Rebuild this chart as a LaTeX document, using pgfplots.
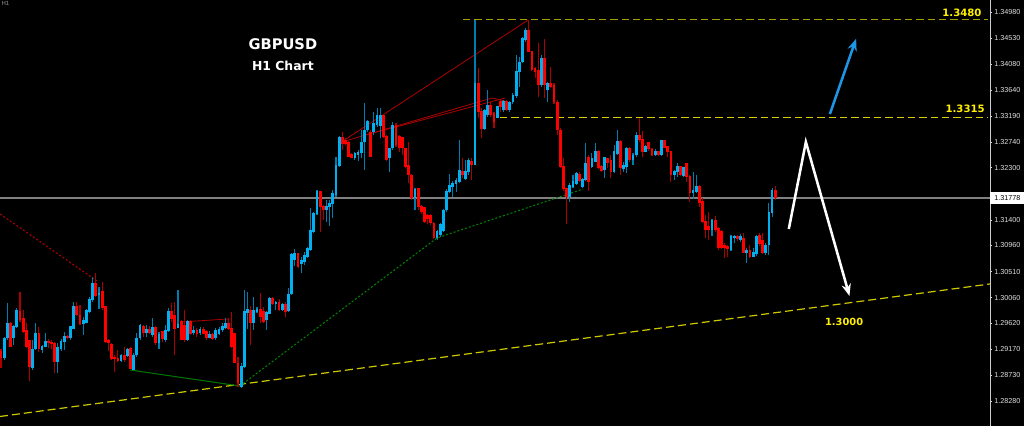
\documentclass[border=0pt]{standalone}
\usepackage{pgfplots}
\pgfplotsset{compat=1.18}
\usepackage{pgfplotstable}
\usepackage{fontspec}
\setmainfont{Liberation Sans}
\newfontfamily\dejavu{DejaVu Sans}
\usetikzlibrary{arrows.meta}
\definecolor{bullbody}{RGB}{0,176,240}
\definecolor{bullwick}{RGB}{0,125,175}
\definecolor{bearbody}{RGB}{255,0,0}
\definecolor{bearwick}{RGB}{175,0,0}
\definecolor{lvlyel}{RGB}{215,205,0}
\definecolor{lvlolive}{RGB}{165,160,0}
\definecolor{trendyel}{RGB}{205,200,0}
\definecolor{arrowblue}{RGB}{30,150,230}
\definecolor{darkred}{RGB}{175,0,0}
\definecolor{lblyel}{RGB}{255,240,0}

\pgfplotstableread{
i o h l c
2 1.29017 1.29390 1.28988 1.29361
3 1.29361 1.29975 1.29332 1.29619
5 1.29378 1.29591 1.29246 1.29562
6 1.29562 1.29878 1.29533 1.29849
11 1.28845 1.29332 1.28816 1.29172
12 1.29172 1.29619 1.29160 1.29447
14 1.29160 1.29246 1.29114 1.29229
15 1.29218 1.29459 1.29206 1.29304
19 1.28959 1.29286 1.28770 1.29206
20 1.29172 1.29344 1.29149 1.29315
21 1.29304 1.29476 1.29160 1.29390
23 1.29361 1.29562 1.29332 1.29562
24 1.29533 1.29992 1.29533 1.29918
27 1.29619 1.29734 1.29419 1.29665
28 1.29631 1.29860 1.29619 1.29838
29 1.29820 1.30067 1.29792 1.30033
30 1.30021 1.30423 1.29992 1.30308
32 1.30107 1.30239 1.29860 1.30147
39 1.28977 1.29091 1.28959 1.29074
41 1.29057 1.29189 1.29045 1.29172
43 1.28827 1.29102 1.28815 1.29074
44 1.29074 1.29447 1.29045 1.29361
45 1.29361 1.29602 1.29332 1.29590
47 1.29458 1.29590 1.29389 1.29516
49 1.29418 1.29705 1.29389 1.29550
51 1.29275 1.29476 1.29171 1.29435
53 1.29332 1.29590 1.29303 1.29504
54 1.29493 1.29877 1.29476 1.29837
57 1.29544 1.30193 1.29533 1.29608
60 1.29332 1.29676 1.29320 1.29648
62 1.29447 1.29573 1.29418 1.29504
64 1.29447 1.29550 1.29418 1.29516
67 1.29378 1.29493 1.29361 1.29430
69 1.29361 1.29533 1.29332 1.29504
70 1.29435 1.29562 1.29418 1.29516
71 1.29504 1.29619 1.29476 1.29562
72 1.29550 1.29717 1.29516 1.29619
77 1.28528 1.28930 1.28500 1.28873
78 1.28873 1.30193 1.28844 1.29820
79 1.29803 1.30164 1.29516 1.29860
81 1.29631 1.30078 1.29504 1.29849
82 1.29820 1.29906 1.29791 1.29860
85 1.29677 1.29837 1.29504 1.29803
86 1.29791 1.30078 1.29780 1.30050
88 1.29952 1.30004 1.29849 1.29992
90 1.29860 1.29975 1.29837 1.29952
92 1.29837 1.30222 1.29820 1.30124
93 1.30124 1.30836 1.30107 1.30813
94 1.30721 1.30893 1.30607 1.30825
96 1.30641 1.30767 1.30492 1.30710
97 1.30681 1.30853 1.30624 1.30796
98 1.30767 1.30939 1.30739 1.30911
99 1.30893 1.31600 1.30871 1.31215
100 1.31198 1.31542 1.31169 1.31513
101 1.31513 1.31915 1.31485 1.31887
104 1.31582 1.31743 1.31370 1.31640
105 1.31628 1.31743 1.31295 1.31686
106 1.31674 1.31915 1.31427 1.31869
107 1.31829 1.32478 1.31800 1.32346
108 1.32329 1.32845 1.32317 1.32822
113 1.32477 1.32575 1.32432 1.32546
114 1.32518 1.32604 1.32420 1.32575
115 1.32558 1.32948 1.32460 1.32747
116 1.32747 1.33419 1.32259 1.32948
117 1.32948 1.33120 1.32919 1.33092
119 1.32919 1.33264 1.32862 1.33063
120 1.33034 1.33321 1.33005 1.33206
121 1.33017 1.33321 1.32805 1.33206
124 1.32461 1.32645 1.32231 1.32633
125 1.32633 1.33081 1.32604 1.33035
132 1.31784 1.31956 1.31571 1.31933
139 1.31083 1.31227 1.31055 1.31198
140 1.31141 1.31342 1.31112 1.31325
141 1.31209 1.31588 1.31187 1.31571
142 1.31571 1.31933 1.31543 1.31887
143 1.31887 1.32185 1.31858 1.32002
144 1.31973 1.32070 1.31801 1.32030
145 1.32030 1.32128 1.31887 1.32088
146 1.32059 1.32777 1.32030 1.32260
148 1.32116 1.32432 1.32088 1.32231
149 1.32231 1.32461 1.32174 1.32432
151 1.32357 1.34843 1.32346 1.33752
154 1.32977 1.33310 1.32949 1.33293
155 1.33207 1.33637 1.33178 1.33379
158 1.33161 1.33368 1.33150 1.33351
160 1.33293 1.33465 1.33265 1.33448
162 1.33293 1.33448 1.33265 1.33425
163 1.33425 1.33580 1.33402 1.33551
164 1.33540 1.34240 1.33506 1.33953
165 1.33953 1.34211 1.33694 1.34125
166 1.34125 1.34556 1.34097 1.34527
167 1.34499 1.34699 1.34470 1.34671
172 1.33724 1.34240 1.33695 1.34183
174 1.33637 1.33781 1.33425 1.33752
181 1.31801 1.32030 1.31715 1.32002
182 1.31973 1.32174 1.31944 1.32059
183 1.32030 1.32220 1.32002 1.32203
185 1.31973 1.32128 1.31956 1.32105
186 1.32088 1.32719 1.32070 1.32375
188 1.32317 1.32547 1.32289 1.32461
189 1.32403 1.32719 1.32392 1.32587
192 1.32260 1.32489 1.32128 1.32472
195 1.32231 1.32690 1.32203 1.32576
196 1.32530 1.32949 1.32518 1.32748
198 1.32277 1.32403 1.32231 1.32346
199 1.32317 1.32662 1.32203 1.32633
201 1.32432 1.32547 1.32346 1.32518
202 1.32518 1.32920 1.32489 1.32863
205 1.32576 1.32690 1.32564 1.32662
208 1.32518 1.32616 1.32501 1.32576
210 1.32518 1.32777 1.32501 1.32765
214 1.32174 1.32260 1.32088 1.32231
215 1.32231 1.32375 1.32145 1.32317
217 1.32157 1.32317 1.32134 1.32306
220 1.31858 1.32231 1.31755 1.31916
221 1.31887 1.32174 1.31858 1.31973
226 1.31227 1.31411 1.31123 1.31399
232 1.30882 1.31141 1.30871 1.31123
233 1.31083 1.31141 1.30997 1.31123
235 1.31055 1.31158 1.31026 1.31112
237 1.30836 1.30911 1.30653 1.30882
239 1.30768 1.30911 1.30756 1.30836
240 1.30814 1.31141 1.30779 1.31112
243 1.30825 1.30997 1.30796 1.30969
244 1.30969 1.31686 1.30796 1.31525
245 1.31525 1.31944 1.31456 1.31904
}\bull

\pgfplotstableread{
i o h l c
1 1.29132 1.29172 1.28845 1.29017
4 1.29619 1.29648 1.29206 1.29218
7 1.29820 1.30165 1.29648 1.29677
8 1.29706 1.29849 1.29447 1.29476
9 1.29505 1.29619 1.29189 1.29206
10 1.29321 1.29332 1.28632 1.28862
13 1.29447 1.29562 1.29132 1.29172
16 1.29315 1.29344 1.29189 1.29275
17 1.29298 1.29332 1.29172 1.29258
18 1.29275 1.29304 1.28758 1.28959
22 1.29401 1.29419 1.29344 1.29373
25 1.29918 1.29992 1.29746 1.29763
26 1.29763 1.29935 1.29591 1.29619
31 1.30308 1.30480 1.30079 1.30090
33 1.30165 1.30337 1.29849 1.29878
34 1.29906 1.29906 1.29275 1.29304
35 1.29332 1.29344 1.29149 1.29286
36 1.29263 1.29275 1.28988 1.29000
37 1.29034 1.29074 1.28787 1.29000
38 1.29017 1.29160 1.28959 1.28977
40 1.29074 1.29206 1.28959 1.28988
42 1.29189 1.29206 1.28827 1.28844
46 1.29573 1.29590 1.29389 1.29458
48 1.29516 1.29573 1.29435 1.29458
50 1.29550 1.29573 1.29246 1.29275
52 1.29476 1.29493 1.29303 1.29344
55 1.29837 1.29963 1.29648 1.29705
56 1.29763 1.29992 1.29074 1.29533
58 1.29648 1.29676 1.29332 1.29340
59 1.29590 1.29849 1.29303 1.29332
61 1.29648 1.29676 1.29418 1.29447
63 1.29504 1.29533 1.29389 1.29435
65 1.29527 1.29550 1.29430 1.29447
66 1.29476 1.29504 1.29332 1.29378
68 1.29430 1.29458 1.29332 1.29344
73 1.29619 1.29705 1.29504 1.29516
74 1.29533 1.29820 1.29189 1.29217
75 1.29447 1.29458 1.28930 1.28942
76 1.28930 1.29045 1.28528 1.28586
80 1.29849 1.29917 1.29246 1.29631
83 1.29860 1.30147 1.29619 1.29734
84 1.29837 1.29906 1.29619 1.29648
87 1.30050 1.30067 1.29935 1.29952
89 1.29992 1.30033 1.29837 1.29849
91 1.29952 1.29992 1.29723 1.29820
95 1.30825 1.30836 1.30566 1.30595
102 1.31887 1.31904 1.31198 1.31628
103 1.31640 1.31657 1.31399 1.31582
109 1.32822 1.32919 1.32604 1.32718
110 1.32776 1.32805 1.32690 1.32718
111 1.32747 1.32764 1.32477 1.32489
112 1.32535 1.32558 1.32460 1.32477
118 1.32919 1.32948 1.32477 1.32489
122 1.33206 1.33224 1.32805 1.32833
123 1.32845 1.32862 1.32420 1.32432
126 1.33035 1.33064 1.32662 1.32690
127 1.32834 1.32863 1.32576 1.32633
128 1.32817 1.32834 1.32518 1.32645
129 1.32633 1.32645 1.32300 1.32317
130 1.32346 1.32748 1.32030 1.32174
131 1.32174 1.32185 1.31743 1.31772
133 1.31944 1.31956 1.31571 1.31629
134 1.31629 1.31657 1.31497 1.31543
135 1.31611 1.31629 1.31342 1.31370
136 1.31485 1.31497 1.31325 1.31416
137 1.31474 1.31497 1.31313 1.31342
138 1.31342 1.31370 1.31072 1.31083
147 1.32231 1.32472 1.32116 1.32174
150 1.32403 1.32461 1.32088 1.32346
152 1.33752 1.34011 1.33150 1.33265
153 1.33276 1.33322 1.32805 1.32977
156 1.33379 1.33425 1.33178 1.33207
157 1.33236 1.33265 1.32989 1.33092
159 1.33448 1.33465 1.33265 1.33351
161 1.33448 1.33459 1.33276 1.33293
168 1.34671 1.34843 1.34286 1.34298
169 1.34298 1.34309 1.33965 1.33982
170 1.34011 1.34039 1.33838 1.33953
171 1.33982 1.34441 1.33523 1.33724
173 1.34183 1.34516 1.33494 1.33724
175 1.33752 1.34039 1.33666 1.33695
176 1.33724 1.33752 1.33391 1.33425
177 1.33436 1.33465 1.32863 1.32949
178 1.32949 1.32977 1.32289 1.32317
179 1.32317 1.32472 1.31898 1.31944
180 1.31944 1.31956 1.31325 1.31801
184 1.32185 1.32231 1.32059 1.32070
187 1.32489 1.32518 1.31898 1.32059
190 1.32587 1.32604 1.32277 1.32289
191 1.32317 1.32346 1.32231 1.32243
193 1.32461 1.32472 1.32289 1.32375
194 1.32432 1.32518 1.32116 1.32231
197 1.32748 1.32777 1.32174 1.32289
200 1.32633 1.32662 1.32403 1.32432
203 1.32863 1.33161 1.32748 1.32777
204 1.32794 1.32932 1.32489 1.32576
206 1.32731 1.32748 1.32593 1.32616
207 1.32616 1.32633 1.32501 1.32518
209 1.32576 1.32593 1.32501 1.32518
211 1.32765 1.32765 1.32633 1.32650
212 1.32662 1.32673 1.32490 1.32576
213 1.32576 1.32576 1.32059 1.32174
216 1.32317 1.32329 1.32157 1.32174
218 1.32375 1.32386 1.32059 1.32145
219 1.32157 1.32174 1.31715 1.31858
222 1.31973 1.32002 1.31617 1.31698
223 1.31715 1.31772 1.31342 1.31370
224 1.31370 1.31485 1.31083 1.31227
225 1.31284 1.31543 1.31055 1.31227
227 1.31399 1.31468 1.31198 1.31227
228 1.31256 1.31273 1.30882 1.30911
229 1.31198 1.31227 1.30894 1.30911
230 1.30969 1.30997 1.30739 1.30911
231 1.30940 1.30969 1.30756 1.30894
234 1.31123 1.31141 1.31043 1.31066
236 1.31083 1.31169 1.30825 1.30836
238 1.30882 1.30969 1.30739 1.30768
241 1.31141 1.31169 1.30951 1.30986
242 1.31055 1.31169 1.30814 1.30825
246 1.31904 1.31984 1.31743 1.31778
}\bear

\begin{document}
\begin{tikzpicture}[x=0.75pt,y=0.75pt]
\fill[black] (0,0) rectangle (1024,426);
\begin{axis}[
  at={(0,0)}, anchor=south west,
  scale only axis, width=742.5pt, height=319.5pt,
  xmin=0.68, xmax=313.97, ymin=1.27851, ymax=1.35187,
  hide x axis, axis line style={draw=none},
  clip mode=individual,
  ytick={1.27830,1.28280,1.28730,1.29170,1.29620,1.30060,1.30510,1.30960,1.31400,1.32300,1.32740,1.33190,1.33640,1.34080,1.34530,1.34980},
  yticklabels={1.27830,1.28280,1.28730,1.29170,1.29620,1.30060,1.30510,1.30960,1.31400,1.32300,1.32740,1.33190,1.33640,1.34080,1.34530,1.34980},
  yticklabel pos=right, ytick pos=right,
  tick align=outside, major tick length=1.6pt,
  tick style={color=white!85!black, line width=0.5pt},
  yticklabel style={font=\fontsize{5.4}{6}\selectfont, color=white!88!black, inner sep=0pt, xshift=1.4pt},
  scaled y ticks=false,
]
% right border
\draw[white!80!black, line width=0.6pt] (rel axis cs:1,0) -- (rel axis cs:1,1);
% current price line
\addplot[color=white!50!black, line width=0.9pt, forget plot] coordinates {(0.68,1.31778) (313.97,1.31778)};
% level lines
\addplot[draw=lvlolive, line width=0.9pt, dash pattern=on 5.5pt off 3pt, forget plot] coordinates {(147.2,1.34851) (313.3,1.34851)};
\addplot[draw=lvlyel, line width=0.9pt, dash pattern=on 5.5pt off 3pt, forget plot] coordinates {(158.9,1.33167) (313.3,1.33167)};
% bottom trend line
\addplot[draw=trendyel, line width=0.9pt, dash pattern=on 6pt off 3pt, forget plot] coordinates {(0.68,1.28015) (313.97,1.30297)};
% green lines
\addplot[draw=green!45!black, line width=0.8pt, forget plot] coordinates {(41.8,1.28816) (76.6,1.28540)};
\addplot[draw=green!50!black, line width=0.8pt, dash pattern=on 1.5pt off 1.5pt, forget plot] coordinates {(76.6,1.28540) (138.97,1.31089) (185.2,1.31932)};
% red dotted
\addplot[draw=darkred, line width=0.8pt, dash pattern=on 1.5pt off 1.5pt, forget plot] coordinates {(0.68,1.31502) (31.4,1.30348)};
% red trend lines
\addplot[draw=darkred, line width=0.6pt, forget plot] coordinates {(109.2,1.32759) (167.8,1.34843)};
\addplot[draw=darkred, line width=0.6pt, forget plot] coordinates {(109.9,1.32759) (156.4,1.33499) (160.5,1.33448)};
\addplot[draw=darkred, line width=0.6pt, forget plot] coordinates {(115.2,1.32845) (160.5,1.33499)};
\addplot[draw=darkred, line width=0.6pt, forget plot] coordinates {(57.96,1.29642) (72.8,1.29694) (72.8,1.29556)};
% wicks (low to high)
\addplot[draw=bullwick, line width=0.8pt, mark=none, forget plot, quiver={u=0, v=\thisrow{h}-\thisrow{l}}]
  table[x=i, y=l] {\bull};
\addplot[draw=bearwick, line width=0.8pt, mark=none, forget plot, quiver={u=0, v=\thisrow{h}-\thisrow{l}}]
  table[x=i, y=l] {\bear};
% bodies (open to close)
\addplot[draw=bullbody, line width=2.1pt, mark=none, forget plot, quiver={u=0, v=\thisrow{c}-\thisrow{o}+0.00006}]
  table[x=i, y expr={\thisrow{o}-0.00003}] {\bull};
\addplot[draw=bearbody, line width=2.1pt, mark=none, forget plot, quiver={u=0, v=\thisrow{c}-\thisrow{o}-0.00006}]
  table[x=i, y expr={\thisrow{o}+0.00003}] {\bear};
% arrows
\addplot[draw=arrowblue, line width=1.9pt, -{Stealth[length=9pt,width=7pt]}, forget plot] coordinates {(263.3,1.33224) (271.6,1.34520)};
\addplot[draw=white, line width=1.9pt, line join=miter, -{Stealth[length=9pt,width=7pt]}, forget plot] coordinates {(250.3,1.31244) (255.7,1.32742) (269.5,1.30090)};
% texts
\node[white, font=\dejavu\bfseries\fontsize{11}{13}\selectfont, inner sep=0pt] at (axis cs:90.2,1.34424) {GBPUSD};
\node[white, font=\dejavu\bfseries\fontsize{9.3}{11}\selectfont, inner sep=0pt] at (axis cs:90.2,1.34054) {H1 Chart};
\node[lblyel, font=\dejavu\bfseries\fontsize{7.6}{9}\selectfont, inner sep=0pt] at (axis cs:305.1,1.34972) {1.3480};
\node[lblyel, font=\dejavu\bfseries\fontsize{7.6}{9}\selectfont, inner sep=0pt] at (axis cs:306.1,1.33319) {1.3315};
\node[lblyel, font=\dejavu\bfseries\fontsize{7.4}{9}\selectfont, inner sep=0pt] at (axis cs:267.8,1.29642) {1.3000};
\node[white!60!black, font=\fontsize{4.5}{5}\selectfont, anchor=north west, inner sep=1pt] at (rel axis cs:0,1) {H1};
% current price box
\node[fill=white, text=black, anchor=west, inner sep=0pt, minimum width=25.5pt, minimum height=9.5pt, font=\fontsize{5.4}{6}\selectfont] at (axis cs:313.97,1.31778) {1.31778};
\end{axis}
\pgfresetboundingbox
\path[use as bounding box] (0,0) rectangle (1024,426);
\end{tikzpicture}
\end{document}
